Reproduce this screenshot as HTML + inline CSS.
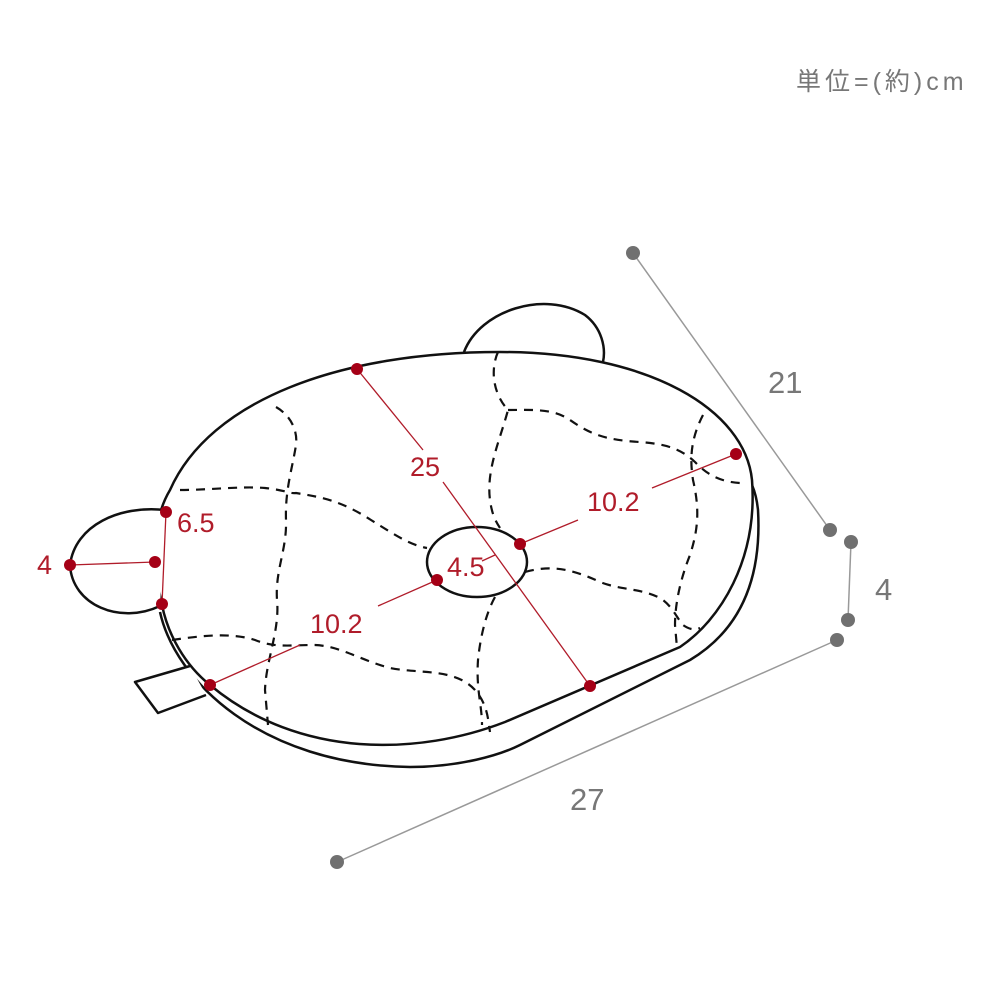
<!DOCTYPE html>
<html><head><meta charset="utf-8"><style>
html,body{margin:0;padding:0;background:#fff;}
svg{display:block;}
text{font-family:"Liberation Sans","Noto Sans CJK JP",sans-serif;}
</style></head><body>
<svg width="1000" height="1000" viewBox="0 0 1000 1000" xmlns="http://www.w3.org/2000/svg">
<rect width="1000" height="1000" fill="#fff"/>
<text x="796" y="90" font-size="25" fill="#777" letter-spacing="4">単位=(約)cm</text>

<g stroke="#999" stroke-width="1.5" fill="none">
<line x1="633" y1="253" x2="830" y2="530"/>
<line x1="851" y1="542" x2="848" y2="620"/>
<line x1="837" y1="640" x2="337" y2="862"/>
</g>
<g fill="#707070">
<circle cx="633" cy="253" r="7"/><circle cx="830" cy="530" r="7"/>
<circle cx="851" cy="542" r="7"/><circle cx="848" cy="620" r="7"/>
<circle cx="837" cy="640" r="7"/><circle cx="337" cy="862" r="7"/>
</g>
<g fill="#777" font-size="31">
<text x="768" y="393">21</text>
<text x="875" y="600">4</text>
<text x="570" y="810">27</text>
</g>

<g stroke="#111" stroke-width="2.5" fill="#fff" stroke-linejoin="round">
<path d="M464,352 C480,310 545,290 585,315 C602,328 606,348 603,362" />
<path d="M160,612 C175,680 260,765 410,767 C460,767 500,755 520,745 L690,660 C740,630 762,580 758,510 C757,500 755,492 752,485" fill="none"/>
<path d="M190,666 L135,682 L158,713 L206,695" />
<path d="M162,605 C152,560 152,520 170,490 C210,400 340,352 500,352 C650,352 745,410 752,480 C758,560 720,620 680,647 L505,722 C420,755 300,760 210,685 C185,665 168,635 162,605 Z"/>
<path d="M165,510 C120,505 75,525 70,565 C72,605 120,625 160,606" />
<ellipse cx="477" cy="562" rx="50" ry="35"/>
</g>

<g stroke="#111" stroke-width="2.2" fill="none" stroke-dasharray="9,7" stroke-linejoin="round">
<path d="M180,490 C210,490 240,486 265,488 C285,490 290,494 296,493 C320,497 340,500 371,520 C395,535 410,545 427,548"/>
<path d="M276,407 C290,415 298,430 296,445 C292,470 285,490 286,520 C287,550 275,570 277,600 C280,630 266,660 265,690 L268,725"/>
<path d="M172,640 C200,636 230,632 255,640 C275,648 290,645 315,645 C340,646 360,660 390,668 C420,674 455,668 475,690 C488,705 488,720 490,732"/>
<path d="M498,352 C492,365 490,390 508,410 C500,440 486,470 490,500 C492,515 496,522 500,528"/>
<path d="M508,410 C530,410 553,408 570,420 C590,434 605,440 640,442 C665,444 680,448 695,462 C710,478 725,482 740,483"/>
<path d="M703,415 C690,440 690,460 693,480 C700,510 698,530 690,555 C680,580 675,605 675,625 L677,648"/>
<path d="M495,597 C485,615 480,640 478,660 C476,690 482,705 482,725"/>
<path d="M525,572 C550,565 570,568 600,582 C620,590 640,588 660,598 C672,605 678,620 683,625 C690,630 695,630 700,628"/>
</g>

<g stroke="#b01c2a" stroke-width="1.3" fill="none">
<line x1="357" y1="369" x2="423" y2="450"/>
<line x1="443" y1="482" x2="590" y2="686"/>
<line x1="520" y1="544" x2="578" y2="520"/>
<line x1="652" y1="488" x2="736" y2="454"/>
<line x1="437" y1="580" x2="378" y2="606"/>
<line x1="300" y1="645" x2="210" y2="685"/>
<line x1="495" y1="555" x2="482" y2="561"/>
<line x1="70" y1="565" x2="155" y2="562"/>
<line x1="166" y1="512" x2="162" y2="604"/>
</g>
<g fill="#a50016">
<circle cx="357" cy="369" r="6"/><circle cx="590" cy="686" r="6"/>
<circle cx="520" cy="544" r="6"/><circle cx="736" cy="454" r="6"/>
<circle cx="437" cy="580" r="6"/><circle cx="210" cy="685" r="6"/>
<circle cx="70" cy="565" r="6"/><circle cx="155" cy="562" r="6"/>
<circle cx="166" cy="512" r="6"/><circle cx="162" cy="604" r="6"/>
</g>
<g fill="#b01c2a" font-size="27">
<text x="410" y="476">25</text>
<text x="587" y="511">10.2</text>
<text x="310" y="633">10.2</text>
<text x="447" y="576">4.5</text>
<text x="37" y="574">4</text>
<text x="177" y="532">6.5</text>
</g>
</svg>
</body></html>
